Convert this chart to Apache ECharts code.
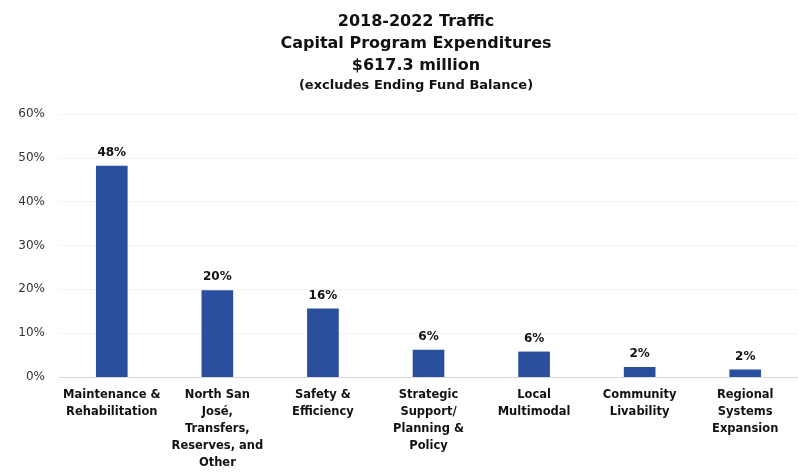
<!DOCTYPE html>
<html>
<head>
<meta charset="utf-8">
<script src="https://cdn.jsdelivr.net/npm/echarts@6/dist/echarts.min.js"></script>
<style>html,body{margin:0;padding:0;background:#fff}#c{width:798px;height:472px}</style>
</head>
<body>
<div id="c"></div>
<script>
const categories = [
  "Maintenance &\nRehabilitation",
  "North San\nJosé,\nTransfers,\nReserves, and\nOther",
  "Safety &\nEfficiency",
  "Strategic\nSupport/\nPlanning &\nPolicy",
  "Local\nMultimodal",
  "Community\nLivability",
  "Regional\nSystems\nExpansion"
];
const values = [48.2, 19.8, 15.6, 6.2, 5.8, 2.3, 1.7];
const yTicks = [0, 10, 20, 30, 40, 50, 60];

const FONT = 'DejaVu Sans, Liberation Sans, Arial, sans-serif';
const chart = echarts.init(document.getElementById('c'));
chart.setOption({
  animation: false,
  textStyle: { fontFamily: FONT },
  title: {
    text: '2018-2022 Traffic\nCapital Program Expenditures\n$617.3 million',
    subtext: '(excludes Ending Fund Balance)',
    left: 411, textAlign: 'center', top: 6,
    itemGap: 0,
    textStyle: { fontSize: 16, fontWeight: 'bold', color: '#111', lineHeight: 22, fontFamily: FONT },
    subtextStyle: { fontSize: 13, fontWeight: 'bold', color: '#111', lineHeight: 18, fontFamily: FONT }
  },
  grid: { left: 59, right: 0, top: 114, bottom: 92 },
  xAxis: {
    type: 'category',
    data: categories,
    axisLine: { show: true, lineStyle: { color: '#d8d8d8' } },
    axisTick: { show: false },
    axisLabel: { interval: 0, fontSize: 11.5, fontWeight: 'bold', color: '#111', lineHeight: 17, margin: 10 }
  },
  yAxis: {
    type: 'value',
    min: yTicks[0], max: yTicks[yTicks.length - 1], interval: 10,
    axisLine: { show: false },
    axisTick: { show: false },
    splitLine: { show: true, lineStyle: { color: '#f2f2f2' } },
    axisLabel: { formatter: v => v + '%', fontSize: 12, color: '#333', margin: 14 }
  },
  series: [{
    type: 'bar',
    data: values,
    barWidth: '30%',
    itemStyle: { color: '#2a4f9e' },
    label: { show: true, position: 'top', formatter: p => Math.round(p.value) + '%', fontSize: 12, fontWeight: 'bold', color: '#111', distance: 7 }
  }]
});
</script>
</body>
</html>
